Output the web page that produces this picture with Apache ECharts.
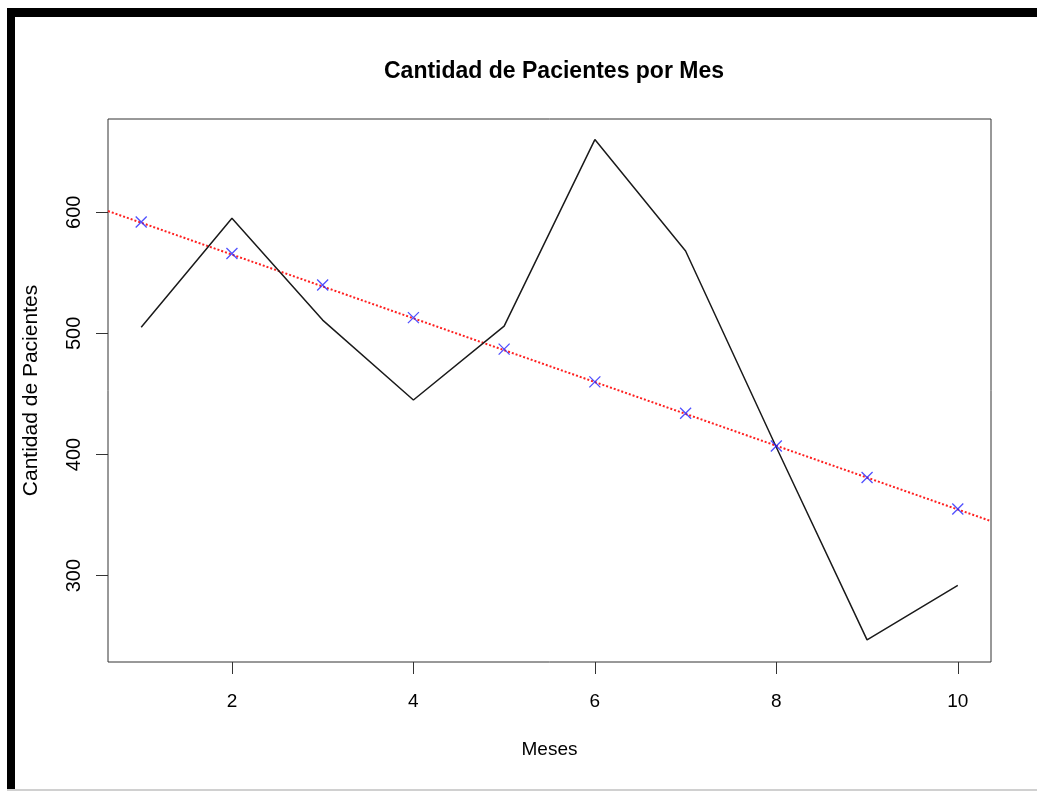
<!DOCTYPE html>
<html>
<head>
<meta charset="utf-8">
<script src="https://cdn.jsdelivr.net/npm/echarts@6/dist/echarts.min.js"></script>
<style>
  html, body { margin: 0; padding: 0; background: #fff; }
  #myChart { width: 1037px; height: 791px; }
</style>
</head>
<body>
<div id="myChart"></div>
<script>
// datos
const meses = [1, 2, 3, 4, 5, 6, 7, 8, 9, 10];
const pacientes = [505, 595, 511, 445, 506, 660, 568, 406, 247, 292];
const ajustados = [592, 566, 540, 513, 487, 460, 434, 407, 381, 355];
// recta de regresion (abline) de borde a borde
const rectaX = [0.634, 10.366];
const rectaY = [601, 345];
const ticksX = [2, 4, 6, 8, 10];
const ticksY = [300, 400, 500, 600];

const fuente = "'Liberation Sans', Arial, Helvetica, sans-serif";

let myChart = echarts.init(document.getElementById('myChart'));
myChart.setOption({
  animation: false,
  backgroundColor: '#fff',
  title: {
    text: 'Cantidad de Pacientes por Mes',
    left: 549,
    textAlign: 'center',
    top: 55,
    textStyle: { fontFamily: fuente, fontSize: 23, fontWeight: 'bold', color: '#000' },
  },
  graphic: [
    // marco negro de la captura
    { type: 'rect', shape: { x: 7, y: 8, width: 1030, height: 9 }, style: { fill: '#000' } },
    { type: 'rect', shape: { x: 7, y: 8, width: 8, height: 781 }, style: { fill: '#000' } },
    { type: 'rect', shape: { x: 7, y: 789, width: 1030, height: 2 }, style: { fill: '#d0d0d0' } },
  ],
  grid: {
    left: 108,
    right: 46,
    top: 119,
    bottom: 129,
    show: true,
    borderColor: '#333',
    borderWidth: 1,
    backgroundColor: 'transparent',
  },
  xAxis: {
    type: 'value',
    min: 0.634,
    max: 10.366,
    name: 'Meses',
    nameLocation: 'middle',
    nameGap: 78,
    nameTextStyle: { fontFamily: fuente, fontSize: 19, color: '#000' },
    axisLine: { show: false },
    splitLine: { show: false },
    axisTick: {
      show: true,
      length: 12,
      customValues: ticksX,
      lineStyle: { color: '#333', width: 1 },
    },
    axisLabel: {
      customValues: ticksX,
      margin: 30,
      fontFamily: fuente,
      fontSize: 19,
      color: '#000',
    },
  },
  yAxis: {
    type: 'value',
    min: 228.7,
    max: 677,
    name: 'Cantidad de Pacientes',
    nameLocation: 'middle',
    nameRotate: 90,
    nameGap: 66,
    nameTextStyle: { fontFamily: fuente, fontSize: 21, color: '#000' },
    axisLine: { show: false },
    splitLine: { show: false },
    axisTick: {
      show: true,
      length: 12,
      customValues: ticksY,
      lineStyle: { color: '#333', width: 1 },
    },
    axisLabel: {
      customValues: ticksY,
      rotate: 90,
      margin: 24,
      fontFamily: fuente,
      fontSize: 20,
      color: '#000',
    },
  },
  series: [
    {
      type: 'line',
      data: rectaX.map((x, i) => [x, rectaY[i]]),
      symbol: 'none',
      lineStyle: { color: '#ff2020', width: 2, type: [2, 2] },
      z: 2,
    },
    {
      type: 'line',
      data: meses.map((m, i) => [m, pacientes[i]]),
      symbol: 'none',
      lineStyle: { color: '#1a1a1a', width: 1.5 },
      z: 3,
    },
    {
      type: 'scatter',
      data: meses.map((m, i) => [m, ajustados[i]]),
      symbol: 'path://M0,0L10,10M10,0L0,10',
      symbolSize: 11,
      itemStyle: { color: 'none', borderColor: '#2424ff', borderWidth: 1.3 },
      z: 4,
    },
  ],
});
window.onresize = function () {
  myChart.resize();
};
</script>
</body>
</html>
